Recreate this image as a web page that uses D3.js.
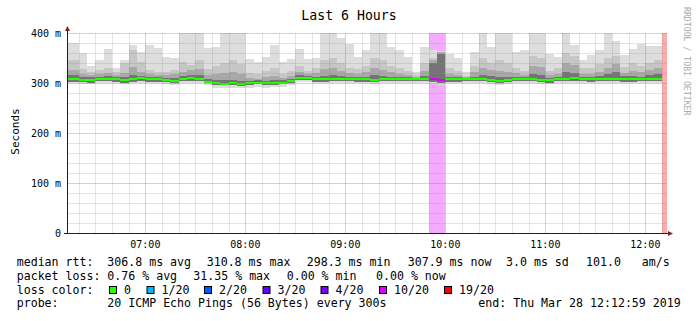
<!DOCTYPE html>
<html>
<head>
<meta charset="utf-8">
<script src="https://d3js.org/d3.v7.min.js"></script>
<style>
body { margin: 0; background: #fff; }
svg { display: block; }
text { font-family: "DejaVu Sans Mono", monospace; fill: #000; }
</style>
</head>
<body>
<div id="chart"></div>
<script>
// 5 minute steps (start time of each step)
var steps = [
 "06:10","06:15","06:20","06:25","06:30","06:35","06:40","06:45","06:50","06:55",
 "07:00","07:05","07:10","07:15","07:20","07:25","07:30","07:35","07:40","07:45",
 "07:50","07:55","08:00","08:05","08:10","08:15","08:20","08:25","08:30","08:35",
 "08:40","08:45","08:50","08:55","09:00","09:05","09:10","09:15","09:20","09:25",
 "09:30","09:35","09:40","09:45","09:50","09:55","10:00","10:05","10:10","10:15",
 "10:20","10:25","10:30","10:35","10:40","10:45","10:50","10:55","11:00","11:05",
 "11:10","11:15","11:20","11:25","11:30","11:35","11:40","11:45","11:50","11:55",
 "12:00","12:05","12:10"];

// median rtt (ms)
var median = [
 307.3,307.3,306.0,305.3,308.7,308.7,307.3,305.3,307.3,309.3,
 307.3,307.3,306.0,304.0,308.0,309.3,308.7,303.0,299.3,298.7,
 299.3,298.3,299.3,301.0,299.3,300.3,301.0,304.0,310.8,310.5,
 307.3,307.3,308.0,308.0,308.7,307.3,307.3,306.7,308.0,308.0,
 308.7,308.0,308.7,308.7,308.7,306.0,307.3,307.3,308.0,308.7,
 308.0,306.0,304.0,306.0,308.7,308.7,308.7,306.0,305.3,308.0,
 308.0,309.3,308.0,307.3,308.0,308.7,308.7,307.3,307.3,308.0,
 308.0,307.9,null];

// smoke: slowest ping (ms)
var smokeMax = [
 380,380,360,335,346,368,330,346,376,362,
 376,370,352,349,430,430,430,371,372,430,
 430,430,347,341,353,376,343,347,368,347,
 349,430,430,390,379,353,366,430,430,373,
 366,353,323,373,366,364,359,349,323,363,
 430,373,430,430,362,366,430,430,358,353,
 430,376,346,356,366,430,384,356,368,378,
 375,375,null];

// smoke: inner upper quantiles (ms)
var smokeHi2 = [
 346,346,329,323,327,330,323,339,366,343,
 326,323,322,326,343,336,345,329,335,340,
 345,338,320,318,325,330,318,325,335,325,
 330,345,350,340,330,328,335,350,345,335,
 330,325,316,340,349,363,330,325,315,335,
 350,340,345,340,330,325,355,350,325,330,
 360,355,330,330,338,350,355,332,340,335,
 340,345,null];

var smokeHi3 = [
 326,326,319,316,319,321,316,321,333,323,
 319,317,316,318,323,326,329,316,318,320,
 322,318,310,309,312,314,311,314,322,318,
 320,328,330,325,320,318,322,330,326,322,
 319,316,312,325,346,362,318,316,312,322,
 330,326,325,322,320,316,335,332,316,318,
 340,336,318,318,322,330,338,320,325,322,
 326,330,null];

var smokeHi4 = [
 316,316,313,312,313,314,312,313,316,314,
 313,312,311,310,314,316,316,309,306,307,
 306,305,305,306,305,306,306,309,316,315,
 313,315,316,314,313,312,313,316,314,313,
 313,312,311,314,340,358,312,312,311,313,
 316,314,312,312,313,312,318,316,311,313,
 322,320,313,313,314,318,322,314,315,313,
 316,318,null];

// smoke: lower quantile and fastest ping (ms)
var smokeLow = [
 303,303,302,301,305,305,303,301,303,305,
 303,303,302,300,304,305,305,299,295,295,
 295,294,295,297,295,296,297,300,307,306,
 303,303,304,304,305,303,303,303,304,304,
 305,304,305,305,303,300,303,303,304,305,
 304,302,300,302,305,305,305,302,301,304,
 304,305,304,303,304,305,305,303,303,304,
 304,304,null];

var smokeMin = [
 299,299,298,297,300,301,299,297,299,301,
 299,299,298,296,300,301,300,295,291,290,
 291,290,291,293,291,292,293,296,303,302,
 299,299,300,300,301,299,299,298,300,300,
 301,300,301,301,298,296,299,299,300,301,
 300,298,296,298,301,301,301,298,297,300,
 300,301,300,299,300,301,301,299,299,300,
 300,300,null];

// packet loss (%)
var loss = [
 0,0,0,0,0,0,0,0,0,0,
 0,0,0,0,0,0,0,0,0,0,
 0,0,0,0,0,0,0,0,0,0,
 0,0,0,0,0,0,0,0,0,0,
 0,0,0,0,31.35,23.4,0,0,0,0,
 0,0,0,0,0,0,0,0,0,0,
 0,0,0,0,0,0,0,0,0,0,
 0,0,95];

var lossLevels = [0, 1, 2, 3, 4, 10, 19];
var lossNames = ["0", "1/20", "2/20", "3/20", "4/20", "10/20", "19/20"];
var lossColors = ["#26ff00", "#00b8ff", "#0059ff", "#5e00ff", "#7e00ff", "#dd00ff", "#ff0000"];

var yTicks = [0, 100, 200, 300, 400];
var yTickLabels = ["0", "100 m", "200 m", "300 m", "400 m"];

var legendRows = [
 ["median rtt:", "306.8 ms avg", "310.8 ms max", "298.3 ms min", "307.9 ms now", "3.0 ms sd", "101.0", "am/s"],
 ["packet loss:", "0.76 % avg", "31.35 % max", "0.00 % min", "0.00 % now"],
 ["loss color:"],
 ["probe:", "20 ICMP Echo Pings (56 Bytes) every 300s", "end: Thu Mar 28 12:12:59 2019"]
];

var W = 697, H = 321;
var L = 67, R = 667, T = 33, B = 233;

var parse = d3.timeParse("%Y-%m-%d %H:%M:%S");
var tStart = parse("2019-03-28 06:12:59"), tEnd = parse("2019-03-28 12:12:59");
var stepT = steps.map(function(s){ return parse("2019-03-28 " + s + ":00"); });

var x = d3.scaleTime().domain([tStart, tEnd]).range([L, R]);
var y = d3.scaleLinear().domain([0, 400]).range([B, T]);

function sx0(i){ return Math.round(x(stepT[i])); }
function sx1(i){ return Math.round(x(d3.timeMinute.offset(stepT[i], 5))); }
function sy(v){ return Math.round(y(v)); }
function lossIdx(pct){
	var n = pct / 5;
	for (var k = 0; k < lossLevels.length; k++) if (n <= lossLevels[k]) return k;
	return lossLevels.length - 1;
}

var svg = d3.select("#chart").append("svg").attr("width", W).attr("height", H);
svg.append("rect").attr("width", W).attr("height", H).attr("fill", "#fff");

svg.append("clipPath").attr("id", "plot")
	.append("rect").attr("x", L).attr("y", T).attr("width", R - L).attr("height", B - T);

var plot = svg.append("g").attr("clip-path", "url(#plot)").attr("shape-rendering", "crispEdges");
var idx = d3.range(steps.length);

// loss background
plot.selectAll("rect.lossbg").data(idx.filter(function(i){ return loss[i] > 0; })).join("rect")
	.attr("class", "lossbg")
	.attr("x", sx0).attr("width", function(i){ return sx1(i) - sx0(i); })
	.attr("y", T).attr("height", B - T)
	.attr("fill", function(i){ return lossColors[lossIdx(loss[i])]; })
	.attr("fill-opacity", 0.33);

// smoke
var layers = [
	{lo: smokeMin, hi: smokeMax, color: "#dddddd"},
	{lo: smokeLow, hi: smokeHi2, color: "#c6c6c6"},
	{lo: smokeLow, hi: smokeHi3, color: "#a8a8a8"},
	{lo: smokeLow, hi: smokeHi4, color: "#747474"}
];
layers.forEach(function(ly){
	plot.append("g").selectAll("rect").data(idx.filter(function(i){ return ly.hi[i] != null; })).join("rect")
		.attr("x", sx0).attr("width", function(i){ return sx1(i) - sx0(i); })
		.attr("y", function(i){ return sy(ly.hi[i]); })
		.attr("height", function(i){ return sy(ly.lo[i]) - sy(ly.hi[i]); })
		.attr("fill", ly.color);
});

// median band coloured by loss
plot.append("g").selectAll("rect").data(idx.filter(function(i){ return median[i] != null; })).join("rect")
	.attr("x", sx0).attr("width", function(i){ return sx1(i) - sx0(i); })
	.attr("y", function(i){ return sy(median[i]) - 1; })
	.attr("height", 2)
	.attr("fill", function(i){ return lossColors[lossIdx(loss[i])]; });

// grid on top
var grid = svg.append("g").attr("shape-rendering", "crispEdges").attr("stroke-width", 1);
y.ticks(20).forEach(function(v){
	if (v === 0) return;
	var yy = sy(v) + 0.5;
	grid.append("line").attr("x1", L).attr("x2", R).attr("y1", yy).attr("y2", yy)
		.attr("stroke", v % 100 === 0 ? "rgba(222,79,79,0.33)" : "rgba(143,143,143,0.24)");
});
d3.timeMinute.every(10).range(tStart, tEnd).forEach(function(t){
	var xx = Math.round(x(t)) + 0.5;
	grid.append("line").attr("x1", xx).attr("x2", xx).attr("y1", T).attr("y2", B)
		.attr("stroke", t.getMinutes() === 0 ? "rgba(222,79,79,0.33)" : "rgba(143,143,143,0.24)");
});

// axes
svg.append("line").attr("x1", L + 0.5).attr("x2", L + 0.5).attr("y1", B + 1).attr("y2", T - 4)
	.attr("stroke", "#1f1f1f").attr("shape-rendering", "crispEdges");
svg.append("line").attr("x1", L - 3).attr("x2", R + 2).attr("y1", B + 0.5).attr("y2", B + 0.5)
	.attr("stroke", "#1f1f1f").attr("shape-rendering", "crispEdges");
svg.append("path").attr("d", "M" + (L - 2) + "," + (T - 2) + "L" + (L + 0.5) + "," + (T - 7) + "L" + (L + 3) + "," + (T - 2) + "Z")
	.attr("fill", "#801f1f");
svg.append("path").attr("d", "M" + (R + 1) + "," + (B - 2) + "L" + (R + 6) + "," + (B + 0.5) + "L" + (R + 1) + "," + (B + 3) + "Z")
	.attr("fill", "#801f1f");

// tick labels
yTicks.forEach(function(v, k){
	svg.append("text").attr("x", 61).attr("y", y(v) + 3.5)
		.attr("text-anchor", "end").style("font-size", "10px").text(yTickLabels[k]);
});
var fmt = d3.timeFormat("%H:%M");
d3.timeHour.range(tStart, tEnd).forEach(function(t){
	svg.append("text").attr("x", x(t)).attr("y", 248)
		.attr("text-anchor", "middle").style("font-size", "10px").text(fmt(t));
});

// titles
svg.append("text").attr("x", 349).attr("y", 20).attr("text-anchor", "middle")
	.style("font-size", "13.2px").text("Last 6 Hours");
svg.append("text").attr("transform", "translate(19,131.5) rotate(-90)").attr("text-anchor", "middle")
	.style("font-size", "11px").text("Seconds");
svg.append("text").attr("transform", "translate(683.5,7) rotate(90)")
	.style("font-size", "8.2px").style("fill", "#aaaaaa").text("RRDTOOL / TOBI OETIKER");

// legend
var rowY = [266, 279.6, 293.5, 307.3];
var rowX = [
	[16.7, 107.3, 206.7, 306.7, 407.7, 506, 586, 641.7],
	[16.7, 107.3, 193.3, 286.7, 376],
	[16.7],
	[16.7, 107.3, 478.3]
];
legendRows.forEach(function(row, r){
	row.forEach(function(s, c){
		svg.append("text").attr("x", rowX[r][c]).attr("y", rowY[r])
			.style("font-size", "11.6px").style("white-space", "pre").text(s);
	});
});
var boxX = [109.5, 147, 204.5, 263, 321, 379.5, 444.5];
lossNames.forEach(function(n, k){
	svg.append("rect").attr("x", boxX[k]).attr("y", 286.5).attr("width", 7).attr("height", 7)
		.attr("fill", lossColors[k]).attr("stroke", "#000").attr("stroke-width", 1);
	svg.append("text").attr("x", boxX[k] + 14.5).attr("y", rowY[2])
		.style("font-size", "11.6px").text(n);
});
</script>
</body>
</html>
